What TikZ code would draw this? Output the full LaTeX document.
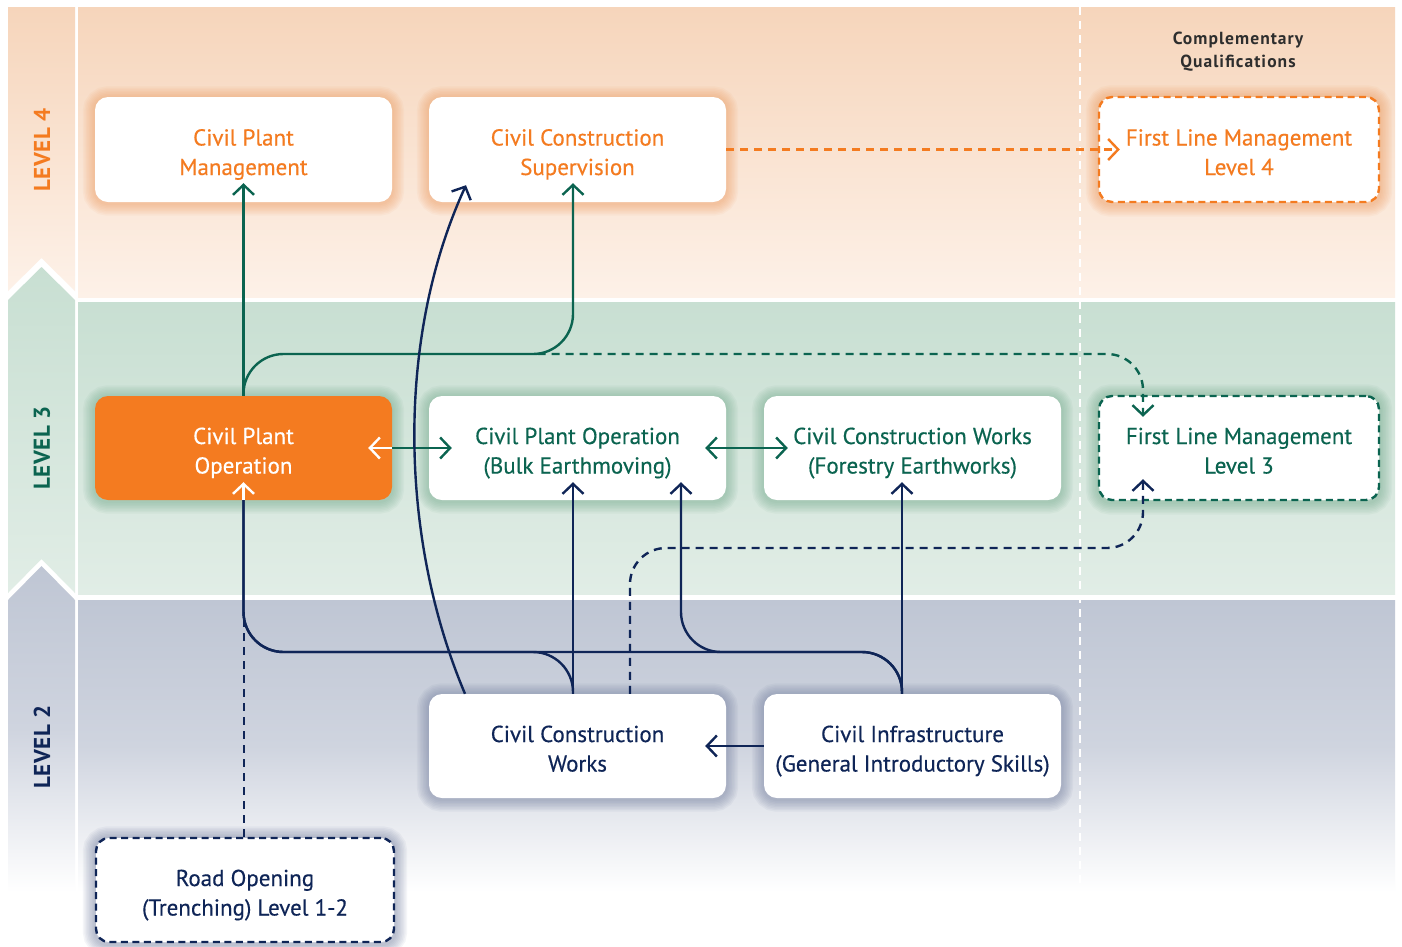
\documentclass[tikz,border=0pt]{standalone}
\usepackage{fontspec}
\setmainfont{PT Sans}
\newfontfamily\boxfont[FakeBold=0.35]{PT Sans}
\usetikzlibrary{arrows.meta,calc}
\definecolor{corange}{HTML}{F47B20}
\definecolor{cgreen}{HTML}{0B6450}
\definecolor{cnavy}{HTML}{0F2557}
\definecolor{cgrey}{HTML}{2E2E2E}
\definecolor{bgfourtop}{HTML}{F6D5BB}
\definecolor{bgfourbot}{HTML}{FDF1E8}
\definecolor{bgthreetop}{HTML}{C8DFD2}
\definecolor{bgthreebot}{HTML}{E1EDE6}
\definecolor{bgtwotop}{HTML}{BFC6D4}
\definecolor{bgtwomid}{HTML}{CFD4DF}
\definecolor{shfour}{HTML}{EE9A5C}
\definecolor{shthree}{HTML}{6FA88A}
\definecolor{shtwo}{HTML}{6E7A9C}
\pgfdeclarelayer{back}
\pgfdeclarelayer{glowlayer}
\pgfsetlayers{back,glowlayer,main}
\newcommand\myglow[2]{%
  \begin{pgfonlayer}{glowlayer}
  \foreach \k in {1,...,8}{%
    \draw[#2, opacity=0.07, line width=\k*3pt, rounded corners=13pt]
      ($(#1.north west)+(0,1.5)$) rectangle ($(#1.south east)+(0,1.5)$);}
  \end{pgfonlayer}}
\newcommand\topstrut{\rule{0pt}{27pt}}
\newcommand\botstrut{\rule[-5.5pt]{0pt}{5.5pt}}
\begin{document}
\begin{tikzpicture}[x=1pt,y=-1pt,
  >={Straight Barb[length=10pt,width=21pt]},
  box/.style={rounded corners=13pt, fill=white, minimum width=297pt, minimum height=105pt,
    align=center, inner sep=0pt, font=\boxfont\fontsize{23}{29.5}\selectfont},
  conn/.style={line width=2.4pt},
  dsh/.style={dash pattern=on 8pt off 6pt},
  bdsh/.style={dash pattern=on 7pt off 4.5pt, line width=2.4pt},
  lvl/.style={rotate=90, font=\fontsize{23}{26}\selectfont\bfseries\addfontfeature{LetterSpace=3}}
]
\useasboundingbox (0,0) rectangle (1402,946);
\begin{pgfonlayer}{back}
\fill[white] (0,0) rectangle (1402,946);
% level 4 band
\shade[top color=bgfourtop,bottom color=bgfourbot] (78,7) rectangle (1395,297);
\shade[top color=bgfourtop,bottom color=bgfourbot] (8,7) -- (75,7) -- (75,291) -- (41.5,258) -- (8,291) -- cycle;
% level 3 band
\shade[top color=bgthreetop,bottom color=bgthreebot] (78,302) rectangle (1395,594);
\shade[top color=bgthreetop,bottom color=bgthreebot] (8,300) -- (41.5,267) -- (75,300) -- (75,593) -- (41.5,559) -- (8,593) -- cycle;
% level 2 band
\shade[top color=bgtwotop,bottom color=white,middle color=bgtwomid] (78,600) rectangle (1395,892);
\shade[top color=bgtwotop,bottom color=white,middle color=bgtwomid] (8,600) -- (41.5,566) -- (75,600) -- (75,892) -- (8,892) -- cycle;
% divider
\draw[white, line width=2pt, dash pattern=on 8pt off 6pt] (1080,7) -- (1080,885);
\end{pgfonlayer}
% level labels
\node[lvl, text=corange] (l4) at (42,150) {LEVEL 4};
\node[lvl, text=cgreen] (l3) at (42,448) {LEVEL 3};
\node[lvl, text=cnavy] (l2) at (42,747) {LEVEL 2};
\node[text=cgrey, align=center, font=\fontsize{17.5}{23}\selectfont\bfseries\addfontfeature{LetterSpace=6}] (cq) at (1238,52) {Complementary\\Qualifications};
% nodes
\node[box, text=corange] (cpm) at (243.5,149.5) {\topstrut Civil Plant\\Management\botstrut};
\node[box, text=corange] (ccs) at (577.5,149.5) {\topstrut Civil Construction\\Supervision\botstrut};
\node[box, text=corange, minimum width=280pt, draw=corange, bdsh] (flm4) at (1239,149.5) {\topstrut First Line Management\\Level 4\botstrut};
\node[box, fill=corange, text=white, minimum height=104pt] (cpo) at (243.5,448) {\topstrut Civil Plant\\Operation\botstrut};
\node[box, text=cgreen, minimum height=104pt] (cpob) at (577.5,448) {\topstrut Civil Plant Operation\\(Bulk Earthmoving)\botstrut};
\node[box, text=cgreen, minimum height=104pt] (ccwf) at (912.5,448) {\topstrut Civil Construction Works\\(Forestry Earthworks)\botstrut};
\node[box, text=cgreen, minimum width=280pt, minimum height=104pt, draw=cgreen, bdsh] (flm3) at (1239,448) {\topstrut First Line Management\\Level 3\botstrut};
\node[box, text=cnavy, minimum height=104pt] (ccw) at (577.5,746) {\topstrut Civil Construction\\Works\botstrut};
\node[box, text=cnavy, minimum height=104pt] (ci) at (912.5,746) {\topstrut Civil Infrastructure\\(General Introductory Skills)\botstrut};
\node[box, text=cnavy, minimum width=298pt, minimum height=104pt, draw=cnavy, bdsh] (ro) at (245,890) {\topstrut Road Opening\\(Trenching) Level 1-2\botstrut};
\myglow{cpm}{shfour}
\myglow{ccs}{shfour}
\myglow{flm4}{shfour}
\myglow{cpo}{shthree}
\myglow{cpob}{shthree}
\myglow{ccwf}{shthree}
\myglow{flm3}{shthree}
\myglow{ccw}{shtwo}
\myglow{ci}{shtwo}
\myglow{ro}{shtwo}
% helper coordinates
\coordinate (x244) at (244,0);
\coordinate (x465) at (465,0);
\coordinate (x573) at (573,0);
\coordinate (x630) at (630,0);
\coordinate (x681) at (681,0);
\coordinate (x902) at (902,0);
\coordinate (x1143) at (1143,0);
\coordinate (x537) at (537.5,0);
\coordinate (y354) at (0,354);
\coordinate (y548) at (0,548);
\coordinate (y612) at (0,612);
\coordinate (y652) at (0,652);
% green connectors
\draw[cgreen, conn, ->] (cpo.north) -- ($(cpm.south)+(0,-19)$);
\draw[cgreen, conn, rounded corners=40pt, ->] (cpo.north) |- (x573 |- y354) -- ($(ccs.south -| x573)+(0,-19)$);
\draw[cgreen, conn, dsh, rounded corners=36pt, ->] (x537 |- y354) -| ($(flm3.north -| x1143)+(0,22)$);
\draw[cgreen, conn, ->] (cpo.east) -- ($(cpob.west)+(23,0)$);
\draw[white, conn, ->] (cpo.east) -- ++(-24,0);
\draw[cgreen, conn, <->] ($(cpob.east)+(-21,0)$) -- ($(ccwf.west)+(24,0)$);
% orange connector
\draw[corange, conn, dsh, ->] (ccs.east) -- ($(flm4.west)+(22,0)$);
% navy connectors
\draw[cnavy, conn, ->] (ccw.north -| x573) -- ($(cpob.south -| x573)+(0,-18)$);
\draw[cnavy, conn, rounded corners=40pt] (ccw.north -| x573) |- (cpo.south |- y652) -- (cpo.south);
\draw[cnavy, conn, rounded corners=40pt] (ci.north -| x902) |- (cpo.south |- y652) -- (cpo.south);
\draw[cnavy, conn, rounded corners=40pt, ->] (ci.north -| x902) |- (x681 |- y652) -- ($(cpob.south -| x681)+(0,-18)$);
\draw[cnavy, conn, ->] (ci.north -| x902) -- ($(ccwf.south -| x902)+(0,-18)$);
\draw[white, conn, ->] (cpo.south) -- ++(0,-18);
\draw[cnavy, conn, ->] (ccw.north -| x465) .. controls (400,540) and (395,340) .. ($(ccs.south)+(-111.5,-17)$);
\draw[cnavy, conn, dsh, rounded corners=36pt, ->] (ccw.north -| x630) |- (x1143 |- y548) -- ($(flm3.south -| x1143)+(0,-22)$);
\draw[cnavy, conn, ->] (ci.west) -- ($(ccw.east)+(-21,0)$);
\draw[cnavy, conn, dsh] (ro.north -| x244) -- (x244 |- y612);
\end{tikzpicture}
\end{document}
